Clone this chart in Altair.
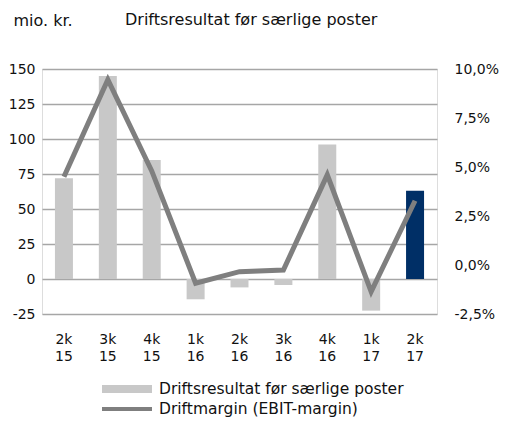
import altair as alt
import pandas as pd

quarters = ["2k 15", "3k 15", "4k 15", "1k 16", "2k 16", "3k 16", "4k 16", "1k 17", "2k 17"]
result = [72, 145, 85, -14.5, -6, -4.3, 96, -22.6, 63]
margin = [4.5, 9.45, 4.8, -0.93, -0.34, -0.26, 4.6, -1.36, 3.28]
bar_name = "Driftsresultat før særlige poster"
line_name = "Driftmargin (EBIT-margin)"
highlight = "2k 17"
left_ticks = [-25, 0, 25, 50, 75, 100, 125, 150]
right_ticks = [-2.5, 0, 2.5, 5, 7.5, 10]

LIGHT = "#c8c8c8"
DARK = "#7f7f7f"
NAVY = "#002f66"
FONT = "DejaVu Sans"
TXT = "#111111"

df = pd.DataFrame({"q": quarters, "result": result, "margin": margin})
legend_df = pd.DataFrame({"series": [bar_name, line_name]})

x = alt.X("q:N", sort=quarters,
          scale=alt.Scale(paddingInner=0, paddingOuter=0),
          axis=alt.Axis(title=None, labelExpr="split(datum.label, ' ')", labelAngle=0,
                        ticks=False, domain=False, labelPadding=18, labelLineHeight=17,
                        labelFontSize=14, labelColor=TXT))

bars = alt.Chart(df).mark_bar(size=18).encode(
    x=x,
    y=alt.Y("result:Q", scale=alt.Scale(domain=[-25, 150], nice=False, zero=False),
            axis=alt.Axis(values=left_ticks, title="mio. kr.", titleAngle=0, titleX=-29,
                          titleY=-44, titleAlign="left", titleBaseline="alphabetic",
                          titleFontSize=16, titleFontWeight="normal", titleColor=TXT,
                          grid=True, gridColor="#a6a6a6", gridWidth=1.5, ticks=False,
                          domain=False, labelPadding=7, labelFontSize=14, labelColor=TXT,
                          labelExpr="replace(format(datum.value, 'd'), '\u2212', '-')")),
    color=alt.condition(alt.datum.q == highlight, alt.value(NAVY), alt.value(LIGHT)),
)

line = alt.Chart(df).mark_line(color=DARK, strokeWidth=5).encode(
    x=x,
    y=alt.Y("margin:Q", scale=alt.Scale(domain=[-2.5, 10], nice=False, zero=False),
            axis=alt.Axis(orient="right", values=right_ticks, title=None, grid=False,
                          ticks=False, domain=False, labelPadding=17, labelFontSize=14,
                          labelColor=TXT,
                          labelExpr="replace(replace(format(datum.value, '.1f'), '.', ','), '\u2212', '-') + '%'"))
)

leg = dict(title=None, orient="none", legendX=75, legendY=310, symbolSize=400,
           labelOffset=22, rowPadding=1, labelFontSize=15.5, labelColor=TXT,
           labelLimit=450, symbolStrokeWidth=0, symbolOpacity=1)

legend_layer = alt.Chart(legend_df).mark_point(filled=True, opacity=0).encode(
    color=alt.Color("series:N", sort=[bar_name, line_name],
                    scale=alt.Scale(domain=[bar_name, line_name], range=[LIGHT, DARK]),
                    legend=alt.Legend(**leg)),
    shape=alt.Shape("series:N", sort=[bar_name, line_name],
                    scale=alt.Scale(domain=[bar_name, line_name],
                                    range=["M-2.5,-0.4H2.5V0.4H-2.5Z", "M-2.5,-0.2H2.5V0.2H-2.5Z"]),
                    legend=alt.Legend(**leg)),
)

chart = alt.layer(bars, line, legend_layer).resolve_scale(y="independent").properties(
    width=395, height=245,
    autosize=alt.AutoSizeParams(type="none"),
    padding={"left": 34, "top": 61, "right": 63, "bottom": 106},
    title=alt.TitleParams(bar_name, anchor="start", frame="group", dx=83, fontSize=16,
                          fontWeight="normal", color=TXT, font=FONT, offset=-16),
).configure_view(stroke=None).configure(font=FONT)

chart.save("out.html", embed_options={"renderer": "svg", "actions": False})
